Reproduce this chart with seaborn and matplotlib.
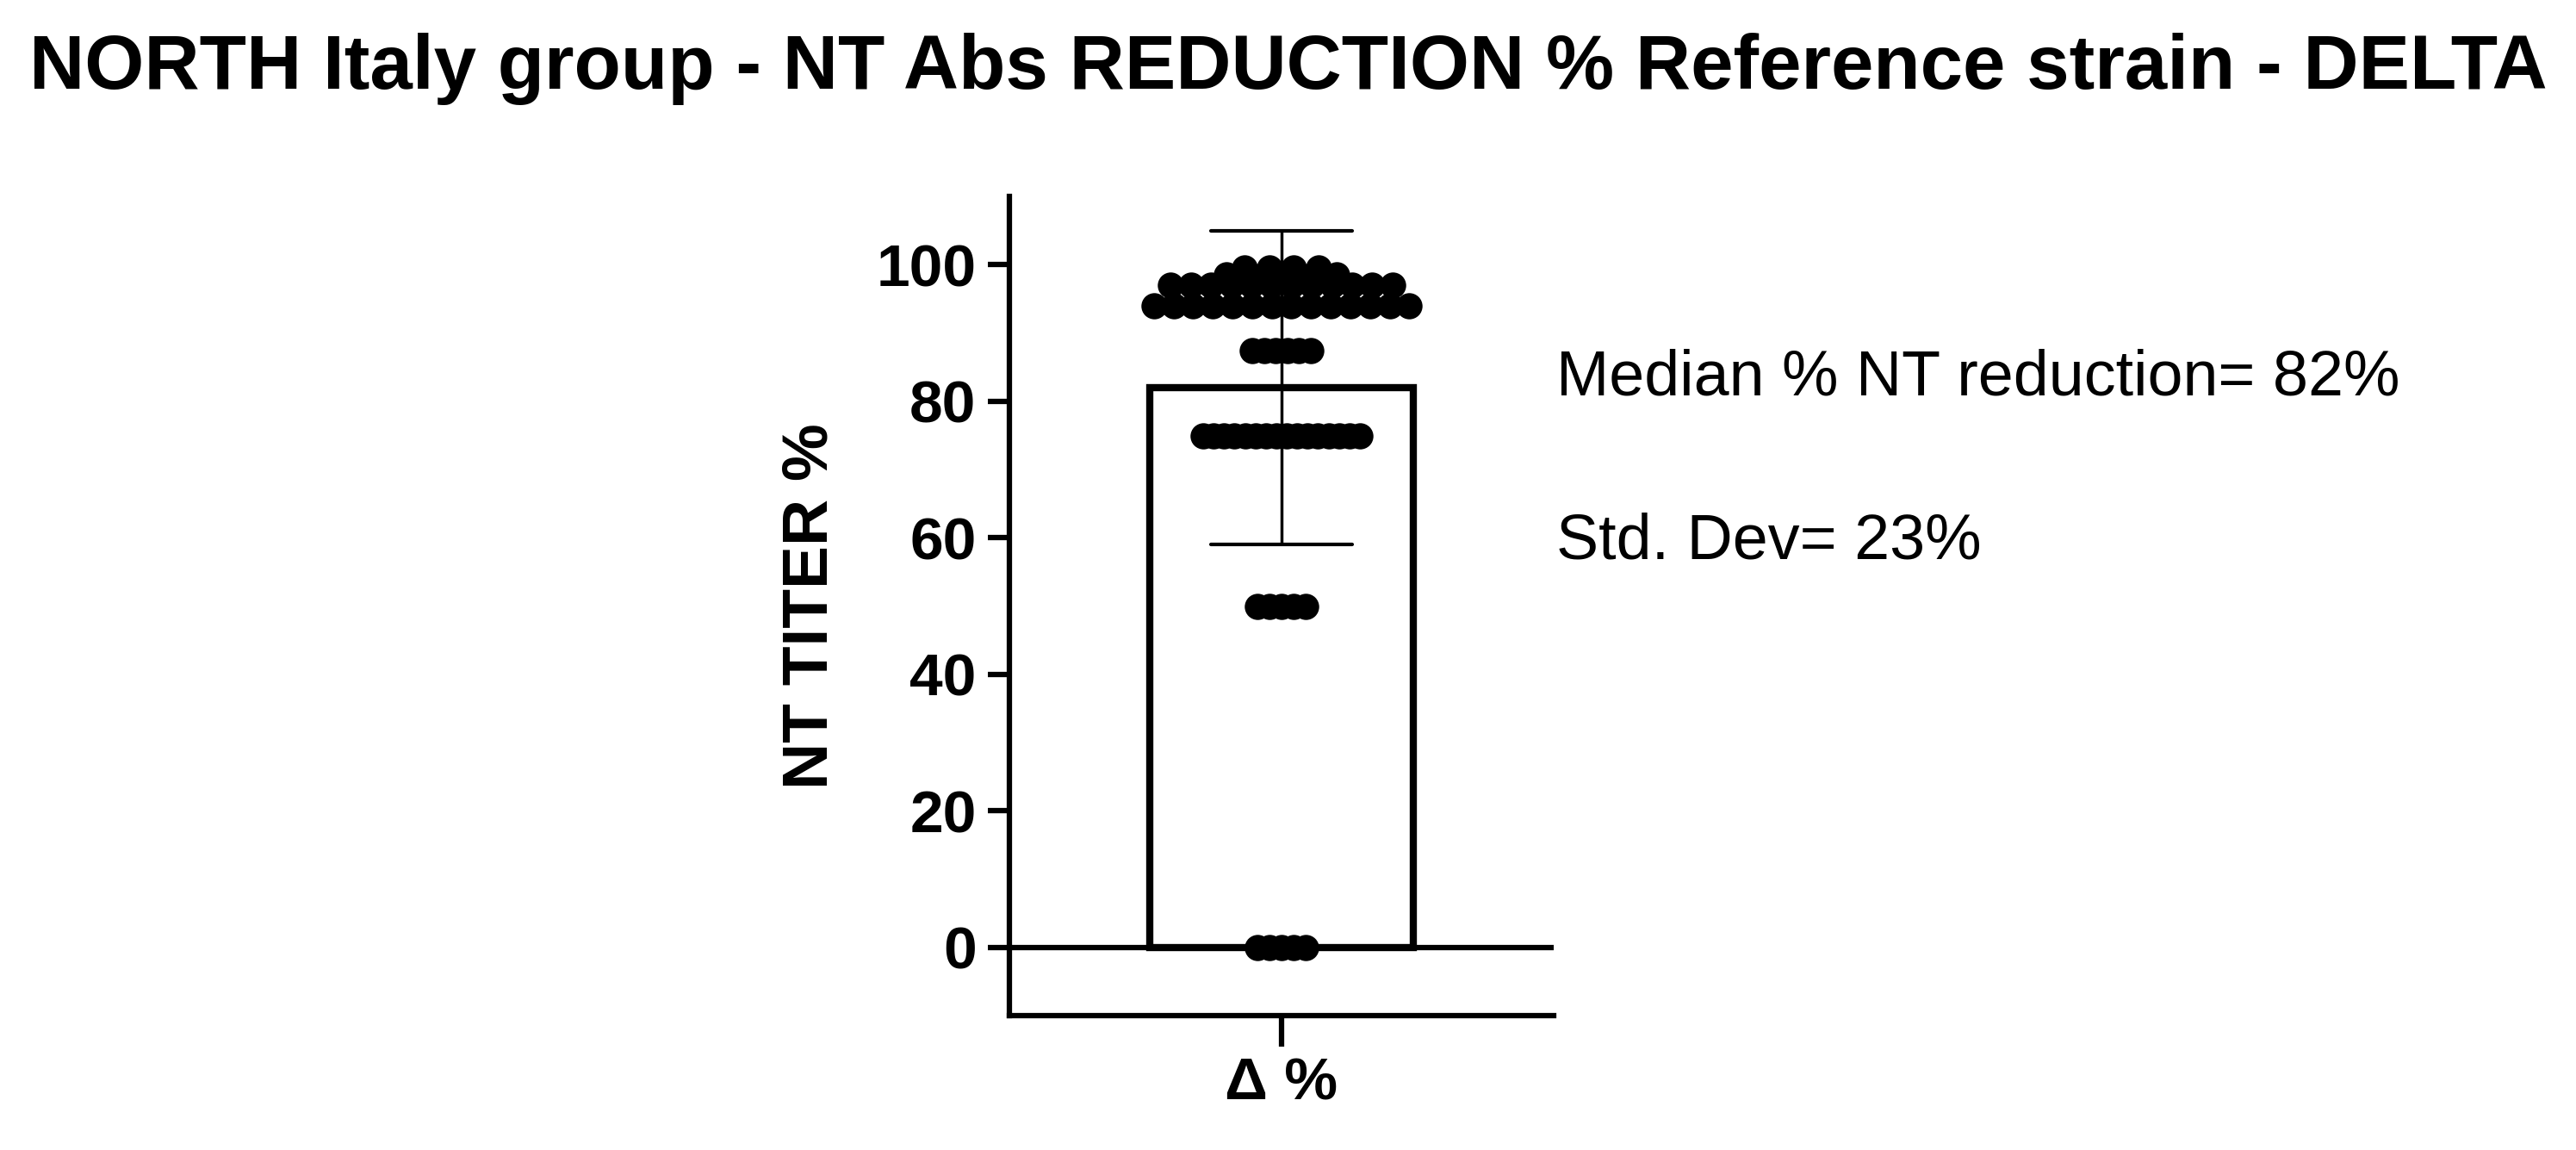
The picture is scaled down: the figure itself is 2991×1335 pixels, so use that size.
import numpy as np
import pandas as pd
import matplotlib
matplotlib.use("Agg")
import matplotlib.pyplot as plt
import seaborn as sns

sns.set_style("ticks")
plt.rcParams["font.family"] = ["Liberation Sans", "DejaVu Sans"]
plt.rcParams["text.color"] = "black"
plt.rcParams["axes.labelcolor"] = "black"
plt.rcParams["xtick.color"] = "black"
plt.rcParams["ytick.color"] = "black"
plt.rcParams["axes.edgecolor"] = "black"

# data
levels = [0, 50, 75, 87.5, 94, 97, 98.5, 99.5]
counts = [5, 5, 16, 6, 14, 12, 6, 4]
bar_value = 82
bar_sd = 23
category = "Δ %"

values = np.repeat(levels, counts)

# spread the points of each level side by side, overlapping (Prism-like)
xs = []
for lv, n in zip(levels, counts):
    half = 0.018 * n if lv < 90 else 0.034 * n
    half = min(half, 0.47)
    xs.extend(np.linspace(-half, half, n) if n > 1 else [0.0])
df = pd.DataFrame({"x": xs, "y": values})

fig = plt.figure(figsize=(29.91, 13.35), dpi=100)
ax = fig.add_axes([0.392, 0.117, 0.211, 0.712])

ax.bar([0], [bar_value], width=0.97, facecolor="white", edgecolor="black", linewidth=6, zorder=1)
ax.axhline(0, color="black", lw=4.5, zorder=2)
ax.errorbar([0], [bar_value], yerr=[bar_sd], color="black", lw=2.5, capsize=0, zorder=3)
for yv in (bar_value - bar_sd, bar_value + bar_sd):
    ax.plot([-0.26, 0.26], [yv, yv], color="black", lw=3, solid_capstyle="round", zorder=3)
sns.scatterplot(data=df, x="x", y="y", s=480, color="black", edgecolor="black", linewidth=0, ax=ax, zorder=4)

ax.set_xlim(-1, 1)
ax.set_ylim(-10, 110)
ax.set_yticks([0, 20, 40, 60, 80, 100])
ax.set_xticks([0])
ax.set_xticklabels([category])
ax.set_xlabel("")
ax.set_ylabel("NT TITER %", fontsize=54, fontweight="bold", labelpad=30)
for s in ("top", "right"):
    ax.spines[s].set_visible(False)
for s in ("left", "bottom"):
    ax.spines[s].set_linewidth(4.5)
ax.tick_params(axis="y", width=4.5, length=18, labelsize=50, pad=10)
ax.tick_params(axis="x", width=4.5, length=26, labelsize=50, pad=8)
for lab in ax.get_xticklabels() + ax.get_yticklabels():
    lab.set_fontweight("bold")

fig.text(0.5, 0.94, "NORTH Italy group - NT Abs REDUCTION % Reference strain - DELTA",
         ha="center", va="center", fontsize=64, fontweight="bold")
fig.text(0.604, 0.671, "Median % NT reduction= 82%", fontsize=53, va="center")
fig.text(0.604, 0.529, "Std. Dev= 23%", fontsize=53, va="center")

fig.savefig("out.png", dpi=100)
